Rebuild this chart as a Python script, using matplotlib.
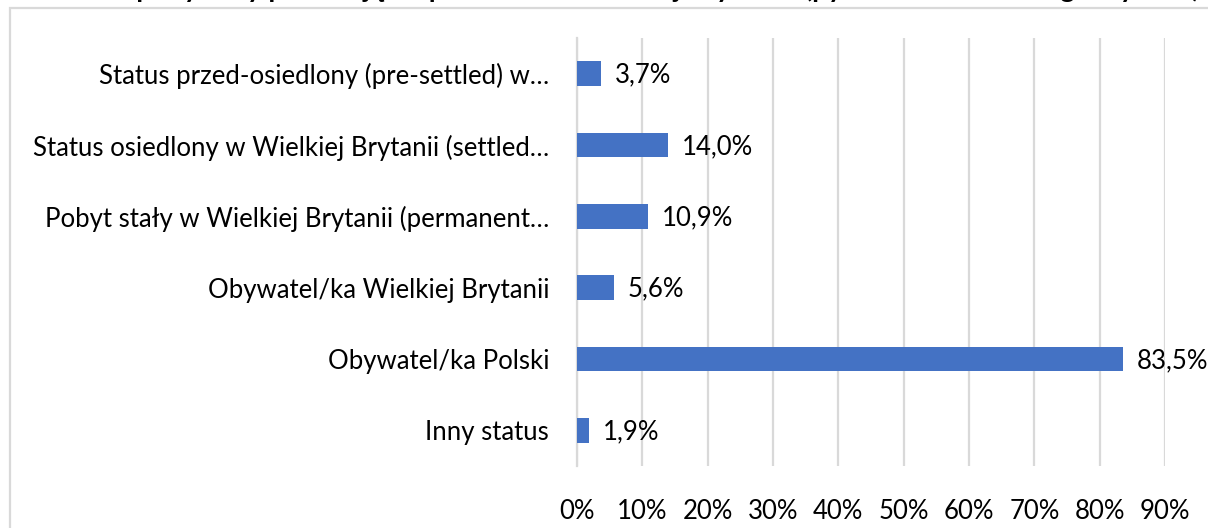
import matplotlib.pyplot as plt
from matplotlib.patches import Rectangle
from matplotlib.ticker import FuncFormatter

# data, top to bottom as in the chart
labels = ['Status przed-osiedlony (pre-settled) w…',
          'Status osiedlony w Wielkiej Brytanii (settled…',
          'Pobyt stały w Wielkiej Brytanii (permanent…',
          'Obywatel/ka Wielkiej Brytanii',
          'Obywatel/ka Polski',
          'Inny status']
values = [3.7, 14.0, 10.9, 5.6, 83.5, 1.9]
ticks = [0, 10, 20, 30, 40, 50, 60, 70, 80, 90]
title = 'Jaki status pobytowy posiadają respondenci w Wielkiej Brytanii? (pytanie wielokrotnego wyboru)'

plt.rcParams['font.family'] = ['Lato', 'DejaVu Sans']

fig = plt.figure(figsize=(12.08, 5.28), dpi=100)
ax = fig.add_axes([577/1208, 1-466/528, (1165-577)/1208, 428/528])

pos = list(range(len(labels)))[::-1]
ax.barh(pos, values, height=0.35, color='#4472C4', zorder=3)
for p, v in zip(pos, values):
    ax.annotate(f'{v:.1f}%'.replace('.', ','), (v, p), xytext=(10, -1),
                textcoords='offset points', va='center', ha='left',
                fontsize=18.5, annotation_clip=False)

ax.set_xlim(0, 90)
ax.set_ylim(-0.5, 5.5)
ax.set_xticks(ticks)
ax.xaxis.set_major_formatter(FuncFormatter(lambda x, _: f'{x:.0f}%'))
ax.set_yticks(pos)
ax.set_yticklabels(labels)
ax.tick_params(axis='x', length=0, pad=24, labelsize=18.5)
ax.tick_params(axis='y', length=0, pad=20, labelsize=18.5)
ax.grid(axis='x', color='#d9d9d9', linewidth=1.6, zorder=0)
for s in ['top', 'right', 'bottom']:
    ax.spines[s].set_visible(False)
ax.spines['left'].set_color('#d9d9d9')
ax.spines['left'].set_linewidth(1.6)

# outer chart frame, partly outside the crop
fig.patches.append(Rectangle((10/1208, -0.2), 1.2, 1.2 - 8/528, transform=fig.transFigure,
                             fill=False, edgecolor='#d9d9d9', linewidth=1.6))

# title clipped by the crop, only descenders visible
fig.text(0.0, 1 + 3/528, title, fontsize=20, fontweight='bold', ha='left', va='baseline')

fig.savefig('out.png', dpi=100)
